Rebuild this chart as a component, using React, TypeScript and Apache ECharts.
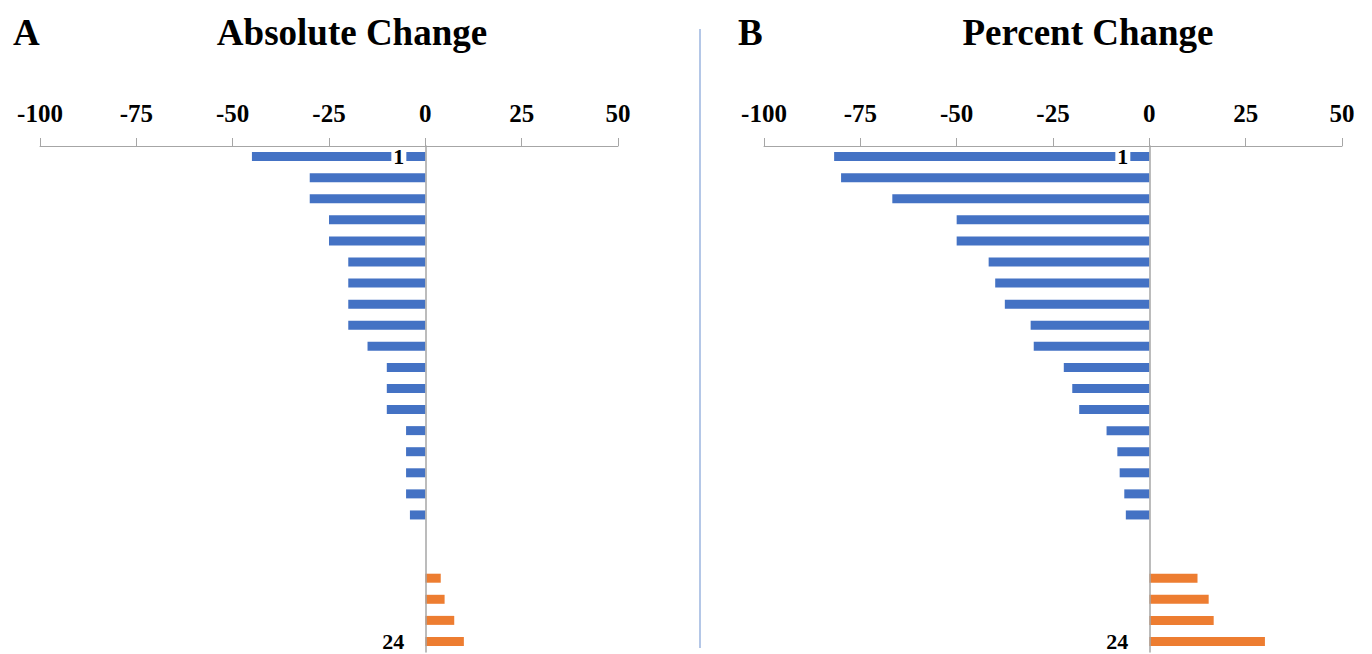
import React, { useEffect, useRef } from "react";
import * as echarts from "echarts";

const categories = ["1", "2", "3", "4", "5", "6", "7", "8", "9", "10", "11", "12", "13", "14", "15", "16", "17", "18", "19", "20", "21", "22", "23", "24"];
const absChange = [-45, -30, -30, -25, -25, -20, -20, -20, -20, -15, -10, -10, -10, -5, -5, -5, -5, -4, 0, 0, 4, 5, 7.5, 10];
const pctChange = [-81.8, -80, -66.7, -50, -50, -41.7, -40, -37.5, -30.8, -30, -22.2, -20, -18.2, -11.1, -8.3, -7.7, -6.5, -6.1, 0, 0, 12.5, 15.4, 16.7, 30];
const xMin = -100;
const xMax = 50;
const xInterval = 25;
const panelLetters = ["A", "B"];
const panelTitles = ["Absolute Change", "Percent Change"];

const SERIF = "'Liberation Serif', 'Times New Roman', serif";
const BLUE = "#4472C4";
const ORANGE = "#ED7D31";
const AXIS_GRAY = "#a6a6a6";

export default function App() {
  const ref = useRef<HTMLDivElement>(null);
  useEffect(() => {
    if (!ref.current) return;
    const chart = echarts.init(ref.current, undefined, { renderer: "svg" });
    const lefts = [40, 764];
    const gridWidth = 578;
    const datasets = [absChange, pctChange];
    const xAxis = lefts.map((_, i) => ({
      type: "value",
      gridIndex: i,
      position: "top",
      min: xMin,
      max: xMax,
      interval: xInterval,
      axisLine: { show: true, onZero: false, lineStyle: { color: AXIS_GRAY, width: 1 } },
      axisTick: { show: true, length: 8, lineStyle: { color: AXIS_GRAY, width: 1 } },
      axisLabel: { fontFamily: SERIF, fontWeight: "bold", fontSize: 25, color: "#000", margin: 20 },
      splitLine: { show: false },
    }));
    // place the category axis on the value axis' zero
    const zeroOffset = -gridWidth * (0 - xMin) / (xMax - xMin);
    const yAxis = lefts.map((_, i) => ({
      type: "category",
      gridIndex: i,
      inverse: true,
      position: "left",
      offset: zeroOffset,
      data: categories,
      z: 3,
      axisLine: { show: true, onZero: false, lineStyle: { color: AXIS_GRAY, width: 1.5 } },
      axisTick: { show: false },
      axisLabel: {
        interval: (index: number) => index === 0 || index === categories.length - 1,
        fontFamily: SERIF,
        fontWeight: "bold",
        fontSize: 22,
        lineHeight: 18,
        color: "#000",
        backgroundColor: "#fff",
        padding: [0, 2, 0, 2],
        margin: 19,
      },
      splitLine: { show: false },
    }));
    const series: any[] = [];
    datasets.forEach((vals, i) => {
      series.push({
        type: "bar",
        xAxisIndex: i,
        yAxisIndex: i,
        stack: "s" + i,
        barWidth: 9,
        itemStyle: { color: BLUE },
        data: vals.map((v) => (v < 0 ? v : "-")),
      });
      series.push({
        type: "bar",
        xAxisIndex: i,
        yAxisIndex: i,
        stack: "s" + i,
        barWidth: 9,
        itemStyle: { color: ORANGE },
        data: vals.map((v) => (v > 0 ? v : "-")),
      });
    });
    const titleFont = `bold 37px ${SERIF}`;
    const graphic: any[] = [
      { type: "line", shape: { x1: 700, y1: 29, x2: 700, y2: 648 }, style: { stroke: "#b4c7e7", lineWidth: 2 } },
      { type: "text", x: 13, y: 32, style: { text: panelLetters[0], font: titleFont, fill: "#000", textAlign: "left", textVerticalAlign: "middle" } },
      { type: "text", x: 352, y: 32, style: { text: panelTitles[0], font: titleFont, fill: "#000", textAlign: "center", textVerticalAlign: "middle" } },
      { type: "text", x: 738, y: 32, style: { text: panelLetters[1], font: titleFont, fill: "#000", textAlign: "left", textVerticalAlign: "middle" } },
      { type: "text", x: 1088, y: 32, style: { text: panelTitles[1], font: titleFont, fill: "#000", textAlign: "center", textVerticalAlign: "middle" } },
    ];
    chart.setOption({
      animation: false,
      backgroundColor: "#fff",
      grid: lefts.map((l) => ({ left: l, top: 146, width: gridWidth, height: 506, containLabel: false, outerBoundsMode: "none" })),
      xAxis,
      yAxis,
      series,
      graphic,
    } as any);
    return () => chart.dispose();
  }, []);
  return <div ref={ref} style={{ position: "absolute", left: 0, top: 0, width: 1372, height: 654 }} />;
}
